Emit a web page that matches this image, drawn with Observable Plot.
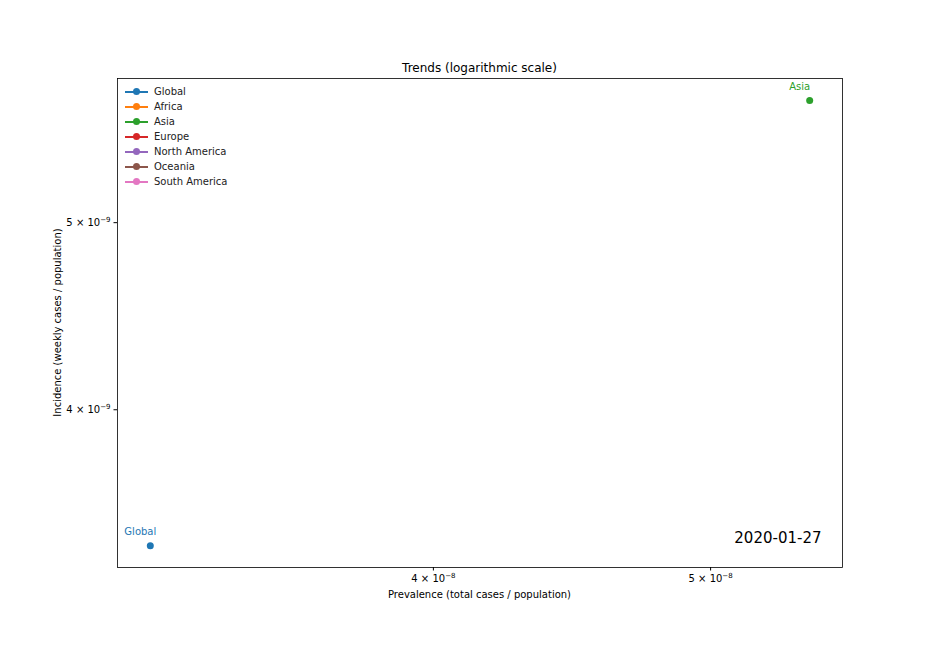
<!DOCTYPE html>
<html>
<head>
<meta charset="utf-8">
<script src="https://cdn.jsdelivr.net/npm/d3@7"></script>
<script src="https://cdn.jsdelivr.net/npm/@observablehq/plot@0.6"></script>
<style>
  body { margin: 0; background: #fff; font-family: "DejaVu Sans", sans-serif; }
  #wrap { position: relative; width: 936px; height: 648px; }
  #legend { position: absolute; left: 125px; top: 84px; font-size: 10px; color: #222; }
  .row { height: 15px; display: flex; align-items: center; }
  .sw { position: relative; width: 23px; height: 15px; margin-right: 6px; }
  .sw .ln { position: absolute; left: 0; right: 0; top: 6.5px; height: 2px; }
  .sw .dt { position: absolute; left: 8px; top: 4px; width: 7px; height: 7px; border-radius: 50%; }
</style>
</head>
<body>
<div id="wrap"><div id="legend"></div></div>
<script>
const regions = ["Global", "Africa", "Asia", "Europe", "North America", "Oceania", "South America"];
const colors = ["#1f77b4", "#ff7f0e", "#2ca02c", "#d62728", "#9467bd", "#8c564b", "#e377c2"];
// Only regions with data on this date
const pointRegions = ["Global", "Asia"];
const prevalence = [3.185e-8, 5.415e-8];
const incidence = [3.401e-9, 5.785e-9];
const xTicks = [4e-8, 5e-8];
const yTicks = [4e-9, 5e-9];
const dateLabel = "2020-01-27";

const data = pointRegions.map((r, i) => ({region: r, x: prevalence[i], y: incidence[i]}));
function parts(v) {
  const e = Math.floor(Math.log10(v) + 1e-9);
  const m = Math.round(v / Math.pow(10, e));
  return [m, e];
}
function fmt(v) {
  const [m, e] = parts(v);
  return m + " \u00D7 10^" + e;
}
const colorOf = r => colors[regions.indexOf(r)];

const chart = Plot.plot({
  width: 936,
  height: 648,
  marginLeft: 117,
  marginRight: 94,
  marginTop: 78,
  marginBottom: 81,
  style: {fontFamily: "DejaVu Sans, sans-serif", fontSize: "10px", color: "#000", background: "#fff"},
  x: {type: "log", domain: [3.102e-8, 5.56e-8]},
  y: {type: "log", domain: [3.314e-9, 5.938e-9]},
  marks: [
    Plot.frame({stroke: "#000", strokeWidth: 0.8}),
    Plot.axisX({ticks: xTicks, tickFormat: fmt, tickSize: 3.5, tickPadding: 3.5, label: null, fontSize: 10}),
    Plot.axisY({ticks: yTicks, tickFormat: fmt, tickSize: 3.5, tickPadding: 3.5, label: null, fontSize: 10}),
    Plot.text([dateLabel], {frameAnchor: "bottom-right", text: d => d, dx: -21, dy: -25, fontSize: 15, fill: "#000", textAnchor: "end"}),
    Plot.dot(data, {x: "x", y: "y", r: 3.5, fill: d => colorOf(d.region), stroke: "none"}),
    Plot.text(data, {x: "x", y: "y", text: "region", dx: -10, dy: -14, fill: d => colorOf(d.region), fontSize: 10})
  ]
});

const svg = d3.select(chart);
// render tick labels as mantissa × 10^exp with a real superscript
svg.selectAll("text").each(function() {
  const t = d3.select(this);
  const s = t.text();
  const m = /^(\d+) \u00D7 10\^(-?\d+)$/.exec(s);
  if (!m) return;
  const tgt = this.querySelector("tspan") ? d3.select(this.querySelector("tspan")) : t;
  tgt.text(null);
  tgt.append("tspan").text(m[1] + " \u00D7 10");
  tgt.append("tspan").attr("font-size", 7).attr("dy", "-0.55em").text("\u2212" + m[2].replace("-", ""));
});
svg.append("text").attr("x", 479.5).attr("y", 72).attr("text-anchor", "middle")
  .attr("font-size", 12).attr("fill", "#000").text("Trends (logarithmic scale)");
svg.append("text").attr("x", 479.5).attr("y", 598).attr("text-anchor", "middle")
  .attr("font-size", 10).attr("fill", "#000").text("Prevalence (total cases / population)");
svg.append("text").attr("transform", "translate(61,322.5) rotate(-90)").attr("text-anchor", "middle")
  .attr("font-size", 10).attr("fill", "#000").text("Incidence (weekly cases / population)");

document.getElementById("wrap").prepend(chart);
chart.style.position = "absolute";
chart.style.left = "0";
chart.style.top = "0";

const legend = d3.select("#legend");
regions.forEach((r, i) => {
  const row = legend.append("div").attr("class", "row");
  const sw = row.append("div").attr("class", "sw");
  sw.append("div").attr("class", "ln").style("background", colors[i]);
  sw.append("div").attr("class", "dt").style("background", colors[i]);
  row.append("span").text(r);
});
document.getElementById("legend").style.zIndex = 2;
</script>
</body>
</html>
